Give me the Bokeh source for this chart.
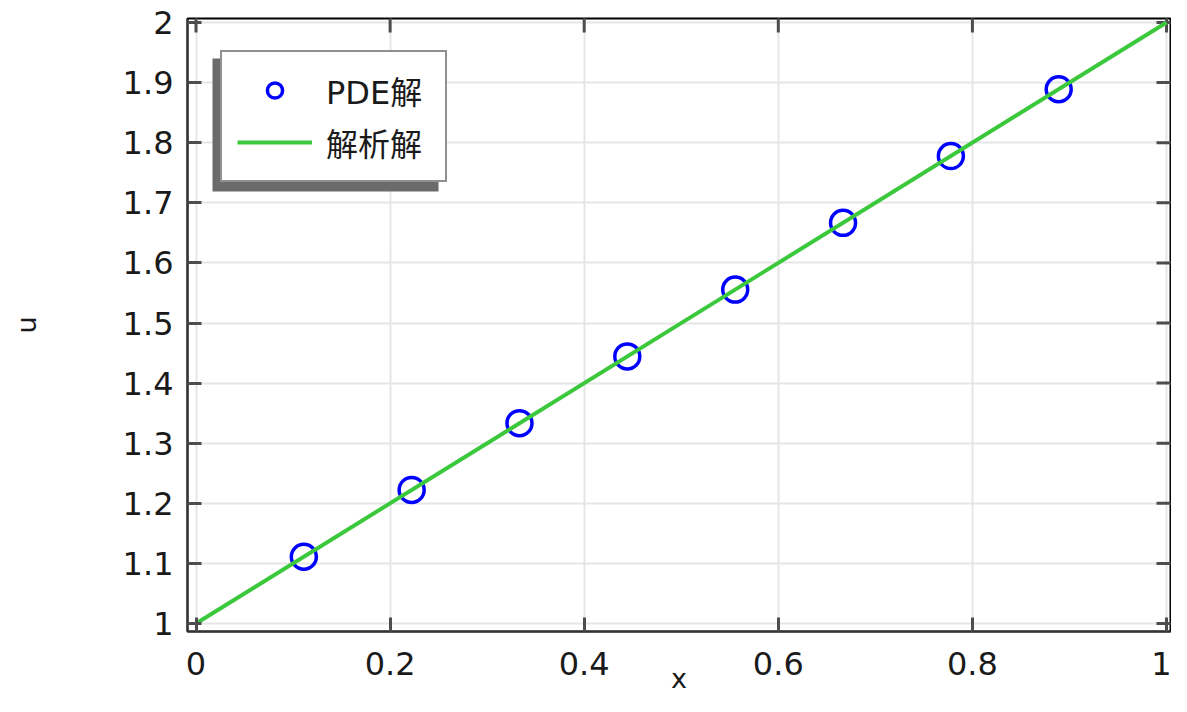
import math
from bokeh.plotting import figure
from bokeh.models import (Range1d, FixedTicker, Legend, LegendItem,
                          BoxAnnotation, CustomJSTickFormatter, ColumnDataSource)
from bokeh.embed import file_html
from bokeh.resources import INLINE

# ---- data ----
pde_x = [0.1111, 0.2222, 0.3333, 0.4444, 0.5556, 0.6667, 0.7778, 0.8889]
pde_u = [1.1111, 1.2222, 1.3333, 1.4444, 1.5556, 1.6667, 1.7778, 1.8889]
exact_x = [0.0, 1.0]
exact_u = [1.0, 2.0]
x_ticks = [0.0, 0.2, 0.4, 0.6, 0.8, 1.0]
y_ticks = [1.0, 1.1, 1.2, 1.3, 1.4, 1.5, 1.6, 1.7, 1.8, 1.9, 2.0]
series_names = ["PDE解", "解析解"]
x_label = "x"
y_label = "u"

FONT = "DejaVu Sans, Noto Sans CJK SC"
X0, X1 = -0.00876, 1.0041
Y0, Y1 = 0.98669, 2.00666

p = figure(width=1171, height=696, output_backend="svg", toolbar_location=None,
           x_range=Range1d(X0, X1), y_range=Range1d(Y0, Y1),
           min_border_left=187, min_border_right=1, min_border_top=18, min_border_bottom=65)
p.background_fill_color = "white"
p.border_fill_color = "white"
p.outline_line_color = "black"
p.outline_line_width = 2

fmt = CustomJSTickFormatter(code="return (Math.round(tick*10)/10).toString();")

for ax in (p.xaxis[0], p.yaxis[0]):
    ax.major_tick_in = 14
    ax.major_tick_out = 0
    ax.minor_tick_line_color = None
    ax.major_tick_line_color = "#4d4d4d"
    ax.major_tick_line_width = 3
    ax.axis_line_color = "#333333"
    ax.axis_line_width = 2
    ax.major_label_text_font = FONT
    ax.major_label_text_font_size = "32px"
    ax.major_label_text_color = "#1a1a1a"
    ax.formatter = fmt
    ax.axis_label_text_font = FONT
    ax.axis_label_text_font_size = "27px"
    ax.axis_label_text_font_style = "normal"
    ax.axis_label_text_color = "#1a1a1a"

p.xaxis.ticker = FixedTicker(ticks=x_ticks)
p.yaxis.ticker = FixedTicker(ticks=y_ticks)
p.xaxis.major_label_standoff = 20
p.yaxis.major_label_standoff = 14

p.yaxis.axis_label = y_label
p.yaxis.axis_label_standoff = 78
p.xaxis.axis_label = x_label
p.xaxis.axis_label_standoff = -15

p.xgrid.ticker = FixedTicker(ticks=x_ticks)
p.ygrid.ticker = FixedTicker(ticks=y_ticks)
p.grid.grid_line_color = "#e6e6e6"
p.grid.grid_line_width = 2

src_pts = ColumnDataSource(dict(x=pde_x, u=pde_u))
src_line = ColumnDataSource(dict(x=exact_x, u=exact_u))

# inward ticks on the top and right edges
p.ray(x=x_ticks, y=[Y1] * len(x_ticks), length=14, length_units="screen",
      angle=-math.pi / 2, line_color="#4d4d4d", line_width=3)
p.ray(x=[X1] * len(y_ticks), y=y_ticks, length=14, length_units="screen",
      angle=math.pi, line_color="#4d4d4d", line_width=3)

r_pts = p.scatter("x", "u", source=src_pts, marker="circle", size=25,
                  fill_color=None, line_color="#0000ff", line_width=3.5)
r_line = p.line("x", "u", source=src_line, line_color="#3cc83c", line_width=4)

# legend shadow
shadow = BoxAnnotation(left=25, right=251, top=573, bottom=440,
                       left_units="screen", right_units="screen",
                       top_units="screen", bottom_units="screen",
                       fill_color="#6b6b6b", fill_alpha=1.0, line_color=None)
p.add_layout(shadow)

legend = Legend(items=[LegendItem(label=series_names[0], renderers=[r_pts]),
                       LegendItem(label=series_names[1], renderers=[r_line])],
                location=(33, 449), margin=0, padding=15, spacing=6,
                glyph_width=75, glyph_height=38, label_standoff=14, label_width=104,
                label_text_font=FONT, label_text_font_size="32px",
                label_text_color="#1a1a1a",
                border_line_color="#222222", border_line_width=2.5,
                background_fill_color="white", background_fill_alpha=1.0)
p.add_layout(legend)

open("out.html", "w").write(file_html(p, INLINE))
